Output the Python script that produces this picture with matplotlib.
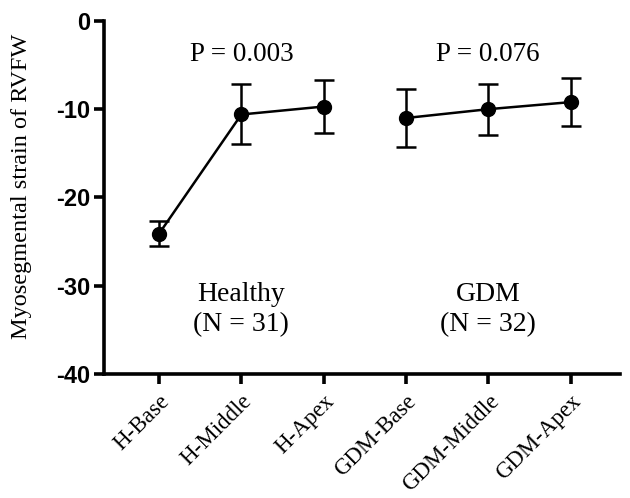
import matplotlib.pyplot as plt

CATEGORIES = ["H-Base", "H-Middle", "H-Apex", "GDM-Base", "GDM-Middle", "GDM-Apex"]
HEALTHY_MEAN = [-24.1, -10.6, -9.7]
HEALTHY_ERR = [1.4, 3.4, 3.0]
GDM_MEAN = [-11.0, -10.0, -9.2]
GDM_ERR = [3.3, 2.9, 2.75]
Y_TICKS = [0, -10, -20, -30, -40]

SERIF = "Liberation Serif"
SANS = "Liberation Sans"


def main():
    fig = plt.figure(figsize=(6.3, 4.98), dpi=100)
    ax = fig.add_axes([0.165, 0.249, 0.819, 0.709])

    style = dict(fmt="o-", color="black", ms=10, lw=1.8,
                 elinewidth=1.8, capsize=7, capthick=1.8)
    ax.errorbar([0, 1, 2], HEALTHY_MEAN, yerr=HEALTHY_ERR, **style)
    ax.errorbar([3, 4, 5], GDM_MEAN, yerr=GDM_ERR, **style)

    ax.set_xlim(-0.67, 5.6)
    ax.set_ylim(-40, 0)

    for side in ("top", "right"):
        ax.spines[side].set_visible(False)
    for side in ("left", "bottom"):
        ax.spines[side].set_linewidth(2.6)

    ax.set_yticks(Y_TICKS)
    ax.set_yticklabels([str(t) for t in Y_TICKS], fontfamily=SANS,
                       fontweight="bold", fontsize=17)
    ax.set_xticks(range(len(CATEGORIES)))
    ax.set_xticklabels(CATEGORIES, rotation=45, ha="right",
                       rotation_mode="anchor", fontfamily=SERIF, fontsize=16.5)
    ax.tick_params(axis="both", length=7, width=2.6, direction="out")
    ax.tick_params(axis="y", pad=3)
    ax.tick_params(axis="x", pad=5)

    ax.set_ylabel("Myosegmental strain of RVFW", fontfamily=SERIF,
                  fontsize=17.5)
    ax.yaxis.set_label_coords(-0.14, 0.531)

    # group annotations
    ax.text(1, -3.85, "P = 0.003", ha="center", va="center",
            fontfamily=SERIF, fontsize=19.5)
    ax.text(4, -3.85, "P = 0.076", ha="center", va="center",
            fontfamily=SERIF, fontsize=19.5)
    ax.text(1, -32.7, "Healthy\n(N = 31)", ha="center", va="center",
            fontfamily=SERIF, fontsize=20, linespacing=1.26)
    ax.text(4, -32.7, "GDM\n(N = 32)", ha="center", va="center",
            fontfamily=SERIF, fontsize=20, linespacing=1.26)

    fig.savefig("out.png", dpi=100)
    plt.close(fig)


if __name__ == "__main__":
    main()
